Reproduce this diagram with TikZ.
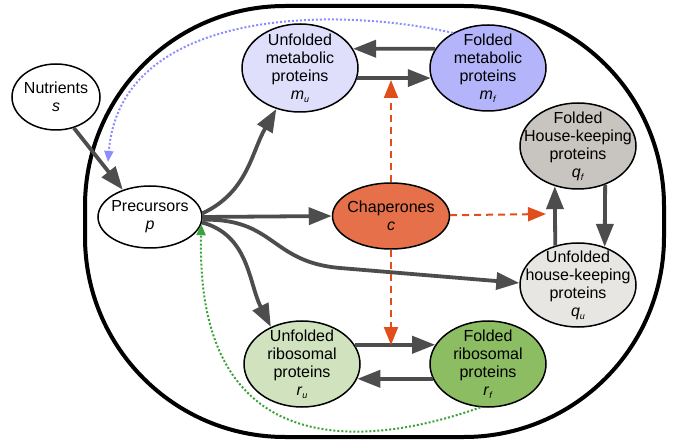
\documentclass[tikz,border=0pt]{standalone}
\usepackage{fontspec}
\setmainfont{Liberation Sans}
\usepackage{tikz}
\usetikzlibrary{positioning,shapes,arrows.meta}

\definecolor{mucol}{HTML}{DFDFFC}
\definecolor{mfcol}{HTML}{B4B4FB}
\definecolor{qfcol}{HTML}{C8C4BF}
\definecolor{qucol}{HTML}{E7E6E3}
\definecolor{chcol}{HTML}{E5704A}
\definecolor{rucol}{HTML}{D0E2BE}
\definecolor{rfcol}{HTML}{8CBD62}
\definecolor{arrgrey}{HTML}{4D4D4D}
\definecolor{chorange}{HTML}{E04E1B}
\definecolor{fbblue}{HTML}{8C8CFF}
\definecolor{fbgreen}{HTML}{3BA33B}

\newcommand{\protvar}[2]{\textit{#1}\raisebox{-3pt}{\fontsize{9}{9}\selectfont\textit{#2}}}

\begin{document}
\begin{tikzpicture}[
      x=1pt, y=-1pt,
      lbl/.style={align=center,font=\fontsize{16}{18}\selectfont},
      mynode/.style={draw,ellipse,line width=1.5pt,inner sep=0pt,minimum width=116pt,minimum height=86pt},
      flow/.style={-{Triangle[length=23pt,width=17pt]},line width=3.8pt,draw=arrgrey},
      chapflow/.style={-{Triangle[length=18pt,width=14pt]},line width=2pt,draw=chorange,dash pattern=on 7pt off 5pt},
      feedback/.style={-{Triangle[length=11pt,width=9pt]},line width=2pt,dash pattern=on 2pt off 2pt}
    ]
        \useasboundingbox (0,0) rectangle (674,443);
        % cell
        \draw[line width=4pt,rounded corners=200pt] (85,6) rectangle (664,437);

        \node[mynode,minimum width=88pt,minimum height=66pt,fill=white,
              label={[lbl]center:Nutrients\\\textit{s}}] (s) at (56,97) {};
        \node[mynode,minimum width=104pt,minimum height=62pt,fill=white,
              label={[lbl]center:Precursors\\\textit{p}}] (p) at (150,217) {};
        \node[mynode,minimum width=117pt,minimum height=66pt,fill=chcol,
              label={[lbl]center:Chaperones\\\textit{c}}] (chap) at (391,216) {};
        \node[mynode,fill=mucol,minimum height=88pt,
              label={[lbl]center:Unfolded\\metabolic\\proteins\\\protvar{m}{u}}] (mu) at (300,68) {};
        \node[mynode,fill=mfcol,
              label={[lbl]center:Folded\\metabolic\\proteins\\\protvar{m}{f}}] (mf) at (488,68) {};
        \node[mynode,fill=qfcol,
              label={[lbl]center:Folded\\House-keeping\\proteins\\\protvar{q}{f}}] (qf) at (578,146) {};
        \node[mynode,fill=qucol,minimum height=84pt,
              label={[lbl]center:Unfolded\\house-keeping\\proteins\\\protvar{q}{u}}] (qu) at (578,285) {};
        \node[mynode,fill=rucol,
              label={[lbl]center:Unfolded\\ribosomal\\proteins\\\protvar{r}{u}}] (ru) at (302,364) {};
        \node[mynode,fill=rfcol,
              label={[lbl]center:Folded\\ribosomal\\proteins\\\protvar{r}{f}}] (rf) at (488,364) {};

        \coordinate (mmid) at (391,80);
        \coordinate (qmid) at (546,214);
        \coordinate (rmid) at (391,345);
        \coordinate (bluetip) at (108,162);

        % fluxes
        \draw[flow] (s.-60) -- (p.135);
        \draw[flow] (p.4) to[out=25,in=-120] (mu.-120);
        \draw[flow] (p.east) -- (chap.west);
        \draw[flow] (p.-3) .. controls (275,218) and (270,262) .. (340,268) -- (qu.178);
        \draw[flow] (p.-6) to[out=-15,in=117] (ru.130);
        \draw[flow] (mu.-10) -- (mf.190);
        \draw[flow] (mf.160) -- (mu.20);
        \draw[flow] (ru.20) -- (rf.160);
        \draw[flow] (rf.195) -- (ru.-15);
        \draw[flow] (qf.-55) -- (qu.55);
        \draw[flow] (qu.120) -- (qf.-120);

        % folding by chaperones
        \draw[chapflow] (chap) -- (mmid);
        \draw[chapflow] (chap) -- (qmid);
        \draw[chapflow] (chap) -- (rmid);

        % feedback
        \draw[feedback,draw=fbblue] (mf.135) .. controls (330,5) and (120,10) .. (bluetip);
        \draw[feedback,draw=fbgreen] (rf.-100) .. controls (360,450) and (195,460) .. (p.-8);
    \end{tikzpicture}
\end{document}
